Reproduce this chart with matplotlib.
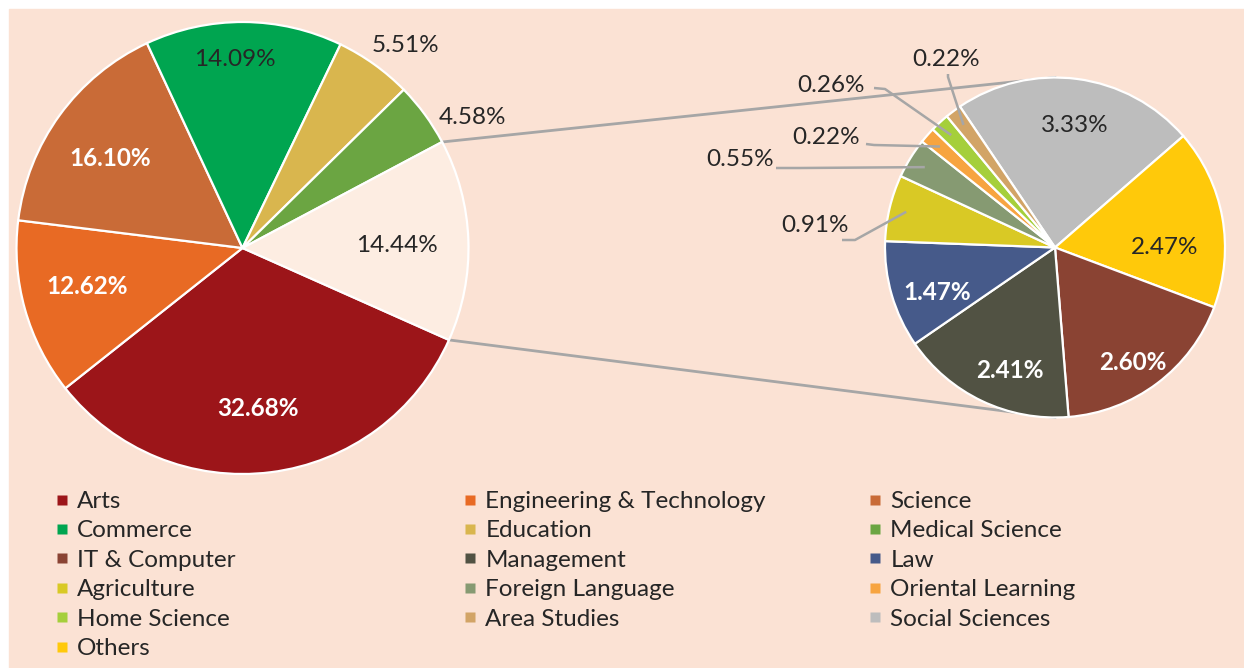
import numpy as np
import matplotlib.pyplot as plt
from matplotlib.lines import Line2D
from matplotlib.patches import Rectangle

# main pie (the last slice is split out into the small pie)
main_labels = ['Arts', 'Engineering & Technology', 'Science', 'Commerce',
               'Education', 'Medical Science']
main_values = [32.68, 12.62, 16.10, 14.09, 5.51, 4.58]
rest_value = 14.44

sub_labels = ['Social Sciences', 'Others', 'IT & Computer', 'Management', 'Law',
              'Agriculture', 'Foreign Language', 'Oriental Learning',
              'Home Science', 'Area Studies']
sub_values = [3.33, 2.47, 2.60, 2.41, 1.47, 0.91, 0.55, 0.22, 0.26, 0.22]

main_colors = ['#9C1519', '#E86A24', '#C96B37', '#00A550', '#D9B64E', '#6BA542']
rest_color = '#FDEDE2'
sub_colors = ['#BDBDBD', '#FFC90A', '#8A4333', '#515243', '#465A8A',
              '#D9C925', '#869A72', '#F7A440', '#A5CF3B', '#D2A466']

W, H = 1244, 668
BG = '#FBE2D4'
DARK = '#262626'
GREY = '#A6A6A6'
plt.rcParams['font.family'] = ['Lato', 'DejaVu Sans']

fig = plt.figure(figsize=(W / 100, H / 100), dpi=100)
fig.patch.set_facecolor('white')
ax = fig.add_axes([0, 0, 1, 1])


def px(x, y):
    # pixel position (y from top) -> data coords
    return x, H - y


ax.add_patch(Rectangle((9, 0), W - 9, H - 9, color=BG, zorder=0))

# pies
lc, lr = px(242.5, 248), 226
rc, rr = px(1055, 247.5), 170
wedge_kw = dict(edgecolor='white', linewidth=1.6)
lw, _ = ax.pie(main_values + [rest_value], colors=main_colors + [rest_color],
               radius=lr, center=lc, startangle=-24, counterclock=False,
               wedgeprops=wedge_kw)
rw, _ = ax.pie(sub_values, colors=sub_colors, radius=rr, center=rc,
               startangle=124, counterclock=False, wedgeprops=wedge_kw)
for w in lw + rw:
    w.set_zorder(3)


def on_wedge(w, frac):
    a = np.deg2rad((w.theta1 + w.theta2) / 2)
    cx, cy = w.center
    return cx + frac * w.r * np.cos(a), cy + frac * w.r * np.sin(a)


# connector lines between the pies
rest = lw[-1]
for ang, end in [(rest.theta2, (rc[0], rc[1] + rr)), (rest.theta1, (rc[0], rc[1] - rr))]:
    a = np.deg2rad(ang)
    start = (lc[0] + lr * np.cos(a), lc[1] + lr * np.sin(a))
    ax.plot([start[0], end[0]], [start[1], end[1]], color=GREY, lw=2, zorder=2)

# value labels
FS = 17.5
white_main = [True, True, True, False, False, False]
main_pos = [(258, 408), (87, 286), (110, 158), (235, 60), (405, 45), (472, 117)]
for v, p, wh in zip(main_values, main_pos, white_main):
    ax.text(*px(*p), f'{v:.2f}%', ha='center', va='center', fontsize=FS,
            color='white' if wh else DARK, fontweight='bold' if wh else 'normal',
            zorder=5)
ax.text(*px(397, 245), f'{rest_value:.2f}%', ha='center', va='center',
        fontsize=FS, color=DARK, zorder=5)

white_sub = [False, False, True, True, True, False, False, False, False, False]
sub_pos = [(1075, 125), (1165, 248), (1133, 362), (1010, 370), (937, 292),
           (815, 226), (740, 159), (826, 137), (831, 86), (946, 60)]
for v, p, wh in zip(sub_values, sub_pos, white_sub):
    ax.text(*px(*p), f'{v:.2f}%', ha='center', va='center', fontsize=FS,
            color='white' if wh else DARK, fontweight='bold' if wh else 'normal',
            zorder=5)

# leader lines for the thin slices: start, knee (pixels) -> wedge
leaders = {5: [(842, 240), (855, 240)],
           6: [(776, 168), (800, 168)],
           7: [(866, 144), (874, 145)],
           8: [(874, 88), (885, 89)],
           9: [(948, 74), (948, 77)]}
for i, pts in leaders.items():
    xs = [px(*q)[0] for q in pts]
    ys = [px(*q)[1] for q in pts]
    ex, ey = on_wedge(rw[i], 0.9)
    ax.plot(xs + [ex], ys + [ey], color=GREY, lw=1.8, zorder=4,
            solid_capstyle='butt')

ax.set_xlim(0, W)
ax.set_ylim(0, H)
ax.set_aspect('equal')
ax.axis('off')

# legend: three columns, filled row by row
all_labels = main_labels + ['IT & Computer', 'Management', 'Law', 'Agriculture',
                            'Foreign Language', 'Oriental Learning',
                            'Home Science', 'Area Studies', 'Social Sciences', 'Others']
color_of = dict(zip(main_labels, main_colors))
color_of.update(dict(zip(sub_labels, sub_colors)))
cols = [all_labels[0::3], all_labels[1::3], all_labels[2::3]]
col_x = [53, 461, 866]
for labs, x0 in zip(cols, col_x):
    hs = [Line2D([], [], marker='s', linestyle='none', markersize=7,
                 markerfacecolor=color_of[l], markeredgecolor='none') for l in labs]
    fig.legend(hs, labs, loc='upper left', bbox_to_anchor=(x0 / W, 1 - 491 / H),
               frameon=False, fontsize=FS, handlelength=0.7, handletextpad=0.3,
               labelspacing=0.345, borderpad=0, borderaxespad=0,
               labelcolor=DARK)

fig.savefig('out.png', dpi=100, facecolor=fig.get_facecolor())
